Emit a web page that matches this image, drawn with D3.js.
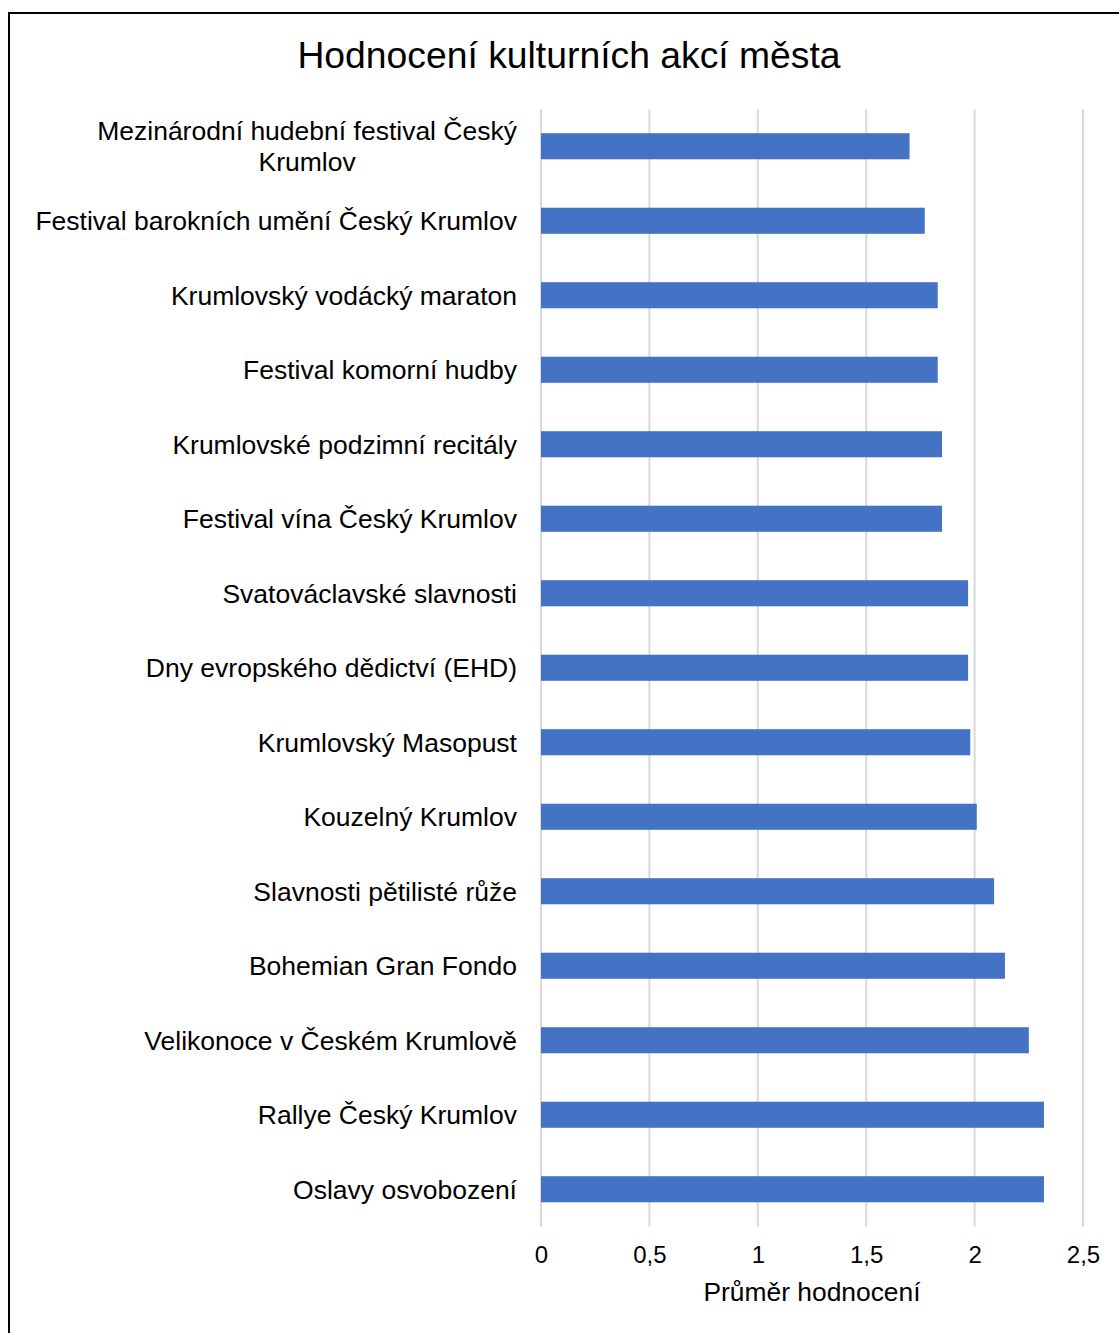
<!DOCTYPE html>
<html><head><meta charset="utf-8">
<script src="https://cdn.jsdelivr.net/npm/d3@7"></script>
<style>body{margin:0;background:#fff;} svg{display:block;font-family:"Liberation Sans",Arial,sans-serif;}</style>
</head><body>
<script>
const categories = ["Mezinárodní hudební festival Český Krumlov","Festival barokních umění Český Krumlov","Krumlovský vodácký maraton","Festival komorní hudby","Krumlovské podzimní recitály","Festival vína Český Krumlov","Svatováclavské slavnosti","Dny evropského dědictví (EHD)","Krumlovský Masopust","Kouzelný Krumlov","Slavnosti pětilisté růže","Bohemian Gran Fondo","Velikonoce v Českém Krumlově","Rallye Český Krumlov","Oslavy osvobození"];
const values = [1.70,1.77,1.83,1.83,1.85,1.85,1.97,1.97,1.98,2.01,2.09,2.14,2.25,2.32,2.32];
const tickValues = [0,0.5,1,1.5,2,2.5];
const tickLabels = ["0","0,5","1","1,5","2","2,5"];
const title = "Hodnocení kulturních akcí města";
const xTitle = "Průměr hodnocení";

const W=1119,H=1333;
const svg=d3.select("body").append("svg").attr("width",W).attr("height",H);
svg.append("rect").attr("x",9).attr("y",13).attr("width",W).attr("height",H).attr("fill","#fff").attr("stroke","#000").attr("stroke-width",2);

const x=d3.scaleLinear().domain([0,2.5]).range([541,1083]);
const y=d3.scaleBand().domain(categories).range([109,1226.5]).paddingInner(0.65).paddingOuter(0.325);

svg.append("text").attr("x",569).attr("y",68).attr("text-anchor","middle").attr("font-size",37.3).attr("fill","#000").text(title);

const grid=svg.append("g");
grid.selectAll("line").data(tickValues).join("line")
 .attr("x1",d=>x(d)).attr("x2",d=>x(d)).attr("y1",109).attr("y2",1227)
 .attr("stroke","#d9d9d9").attr("stroke-width",2);

svg.append("g").selectAll("rect").data(values).join("rect")
 .attr("x",x(0)).attr("y",(d,i)=>y(categories[i])).attr("height",y.bandwidth())
 .attr("width",d=>x(d)-x(0)).attr("fill","#4472C4");

const xAxis=svg.append("g").attr("transform","translate(0,1227)")
 .call(d3.axisBottom(x).tickValues(tickValues).tickFormat((d,i)=>tickLabels[i]).tickSize(0).tickPadding(19));
xAxis.select(".domain").remove();
xAxis.selectAll("text").attr("font-size",24).attr("fill","#000").attr("font-family","Liberation Sans, Arial, sans-serif");

svg.append("text").attr("x",812).attr("y",1301).attr("text-anchor","middle").attr("font-size",26.4).attr("fill","#000").text(xTitle);

// category labels
const maxW=490, fs=26.5, lh=31, right=517;
const lab=svg.append("g");
categories.forEach(c=>{
  const cy=y(c)+y.bandwidth()/2;
  const t=lab.append("text").attr("font-size",fs).attr("fill","#000");
  t.text(c);
  if(t.node().getComputedTextLength()<=maxW){
    t.attr("x",right).attr("y",cy).attr("dy","0.35em").attr("text-anchor","end");
  } else {
    const words=c.split(" ");
    const lines=[];let cur="";
    words.forEach(w=>{
      const test=cur?cur+" "+w:w;
      t.text(test);
      if(t.node().getComputedTextLength()>maxW && cur){lines.push(cur);cur=w;} else cur=test;
    });
    lines.push(cur);
    t.text("");
    let mw=0;
    lines.forEach(l=>{t.text(l);mw=Math.max(mw,t.node().getComputedTextLength());});
    t.text("");
    const cx=right-mw/2;
    t.attr("text-anchor","middle");
    lines.forEach((l,i)=>{
      t.append("tspan").attr("x",cx).attr("y",cy+(i-(lines.length-1)/2)*lh).attr("dy","0.35em").text(l);
    });
  }
});
</script>
</body></html>
